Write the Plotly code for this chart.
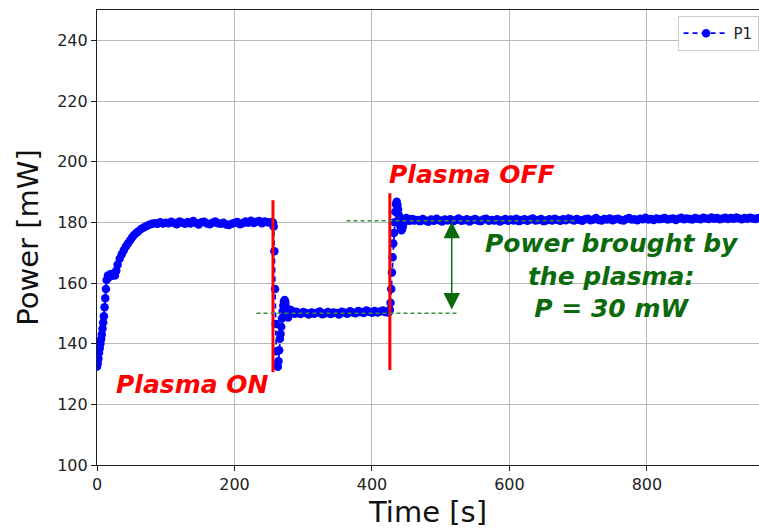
import plotly.graph_objects as go

# --- Power measurement P1 (time in s, power in mW) ---
# warm-up
t_warmup = [0, 1, 2, 3, 4, 5, 6, 7, 8, 9, 10, 11, 12, 13, 14, 16, 18, 20, 22, 24,
            26, 28, 30, 33, 36, 39, 42, 45, 48, 51, 54, 57, 60, 64, 68, 72, 76, 80,
            84, 88, 92, 96, 100]
p_warmup = [132.5, 133.5, 135.0, 137.0, 138.5, 140.0, 141.5, 143.0, 145.0, 147.0,
            149.0, 152.0, 155.0, 158.0, 161.0, 162.5, 162.0, 163.0, 162.5, 163.0,
            162.5, 164.0, 166.0, 168.0, 169.5, 170.8, 172.0, 173.0, 174.0, 175.0,
            175.8, 176.5, 177.0, 177.8, 178.3, 178.8, 179.2, 179.5, 179.7, 179.5,
            180.0, 179.6, 179.9]

# first plateau (plasma off)
t_plateau1 = list(range(104, 253, 4))
p_plateau1 = [179.7, 180.2, 179.8, 179.4, 180.3, 179.9, 179.5, 180.1, 179.6, 180.4,
              179.8, 179.3, 180.0, 180.2, 179.6, 179.4, 179.9, 180.3, 179.7, 179.5,
              179.9, 179.3, 179.1, 179.5, 179.8, 180.1, 179.4, 179.7, 180.3, 179.9,
              180.5, 179.8, 180.2, 180.4, 179.7, 180.3, 180.0, 179.9]

# plasma switched on
t_on = [255, 256, 257, 258, 259, 260, 261, 262, 263, 264, 265, 266, 267, 268, 269,
        270, 271, 272, 273, 274, 275, 276, 277, 278, 279, 280, 282, 284, 286, 288,
        290, 292]
p_on = [180.1, 179.8, 178.6, 170.5, 158.0, 146.5, 137.5, 133.0, 132.4, 134.2,
        137.8, 141.6, 143.2, 145.6, 148.3, 150.6, 152.6, 153.9, 154.4, 153.6,
        152.1, 150.2, 149.1, 148.6, 149.4, 150.3, 151.1, 150.7, 150.2, 149.9,
        150.5, 150.2]

# plateau with plasma
t_plateau2 = list(range(296, 421, 4))
p_plateau2 = [149.8, 150.4, 150.1, 149.6, 150.3, 149.9, 150.2, 150.6, 149.7, 150.0,
              150.4, 149.8, 150.3, 150.1, 149.6, 150.5, 150.2, 149.9, 150.7, 150.3,
              150.0, 150.8, 150.4, 150.1, 150.9, 150.5, 150.2, 150.8, 150.3, 150.6,
              150.9, 150.4]

# plasma switched off
t_off = [423, 424, 425, 426, 427, 428, 429, 430, 431, 432, 433, 434, 435, 436, 437,
         438, 439, 440, 441, 442, 443, 444, 445, 446, 447, 448, 450, 452, 454, 456,
         458, 460, 462]
p_off = [150.6, 150.3, 150.7, 151.2, 153.5, 158.0, 163.5, 168.5, 173.0, 176.5,
         180.0, 183.5, 186.0, 186.8, 185.8, 184.2, 182.3, 180.4, 178.9, 177.8,
         177.4, 177.9, 178.8, 179.8, 180.6, 181.2, 181.4, 180.8, 180.5, 181.1,
         180.7, 181.0, 180.6]

# final plateau
t_plateau3 = list(range(466, 963, 4))
p_plateau3 = [180.8, 180.4, 181.1, 180.6, 180.2, 180.9, 180.5, 181.2, 180.7, 180.3,
              180.9, 180.6, 181.0, 180.4, 180.8, 181.3, 180.5, 180.7, 181.0, 180.3,
              180.8, 181.1, 180.6, 180.4, 180.9, 181.2, 180.5, 180.8, 180.6, 181.0,
              180.3, 180.7, 181.1, 180.5, 180.9, 180.6, 181.2, 180.4, 180.8, 181.0,
              180.5, 180.9, 181.3, 180.6, 180.8, 181.1, 180.4, 180.7, 181.0, 180.6,
              181.2, 180.8, 180.5, 181.0, 180.7, 181.3, 180.9, 180.6, 181.1, 180.8,
              180.5, 181.0, 181.2, 180.7, 180.9, 181.4, 180.8, 180.6, 181.1, 180.9,
              181.3, 180.7, 181.0, 181.2, 180.8, 180.6, 181.1, 181.4, 180.9, 181.0,
              180.7, 181.2, 181.0, 181.5, 180.9, 181.1, 180.8, 181.3, 181.0, 181.2,
              181.4, 180.9, 181.1, 181.3, 180.8, 181.2, 181.5, 181.0, 181.3, 181.1,
              180.9, 181.4, 181.2, 181.0, 181.5, 181.3, 181.1, 181.6, 181.2, 181.4,
              181.0, 181.3, 181.5, 181.1, 181.4, 181.2, 181.6, 181.3, 181.0, 181.4,
              181.2, 181.5, 181.3, 181.1, 181.4]

time_s = t_warmup + t_plateau1 + t_on + t_plateau2 + t_off + t_plateau3
power_mw = p_warmup + p_plateau1 + p_on + p_plateau2 + p_off + p_plateau3

# events and reference levels
t_plasma_on = 256
t_plasma_off = 426
level_on = 150.0
level_off = 180.5
power_gain = 30

x_ticks = [0, 200, 400, 600, 800]
y_ticks = [100, 120, 140, 160, 180, 200, 220, 240]

FONT = "DejaVu Sans"
RED = "#ff0000"
DARK_GREEN = "#0b6b0b"
DASH_GREEN = "#3a8f3a"

fig = go.Figure()
fig.add_trace(go.Scatter(
    x=time_s, y=power_mw, name="P1", mode="lines+markers",
    line=dict(color="#0000ff", width=1.8, dash="5px,4px"),
    marker=dict(color="#0000ff", size=8.5),
))

# plasma on / off markers
fig.add_shape(type="line", x0=t_plasma_on, x1=t_plasma_on, y0=130.6, y1=187.3,
              line=dict(color=RED, width=3))
fig.add_shape(type="line", x0=t_plasma_off, x1=t_plasma_off, y0=131.3, y1=189.6,
              line=dict(color=RED, width=3))

# reference levels
fig.add_shape(type="line", x0=232, x1=525, y0=level_on, y1=level_on,
              line=dict(color=DASH_GREEN, width=1.5, dash="4px,3px"))
fig.add_shape(type="line", x0=363, x1=698, y0=level_off, y1=level_off,
              line=dict(color=DASH_GREEN, width=1.5, dash="4px,3px"))

# double arrow for the power difference
fig.add_annotation(x=516, y=level_off - 0.3, ax=516, ay=level_on + 0.8,
                   xref="x", yref="y", axref="x", ayref="y", text="",
                   showarrow=True, arrowside="end+start", arrowhead=2,
                   arrowsize=2.2, arrowwidth=1.5, arrowcolor=DARK_GREEN)

fig.add_annotation(x=139.6, y=126.4, xref="x", yref="y", showarrow=False,
                   text="<b><i>Plasma ON</i></b>",
                   font=dict(family=FONT, size=25, color=RED))
fig.add_annotation(x=545.5, y=195.8, xref="x", yref="y", showarrow=False,
                   text="<b><i>Plasma OFF</i></b>",
                   font=dict(family=FONT, size=25, color=RED))
fig.add_annotation(x=748.5, y=162.3, xref="x", yref="y", showarrow=False,
                   text=f"<b><i>Power brought by<br>the plasma:<br>P = {power_gain} mW</i></b>",
                   align="center",
                   font=dict(family=FONT, size=25, color=DARK_GREEN))

fig.update_layout(
    width=759, height=529,
    margin=dict(l=97, r=0, t=10, b=64, autoexpand=False),
    plot_bgcolor="white", paper_bgcolor="white",
    font=dict(family=FONT, color="#222222"),
    showlegend=True,
    legend=dict(x=0.877, y=0.987, xanchor="left", yanchor="top",
                bgcolor="white", bordercolor="#cccccc", borderwidth=1,
                itemwidth=45,
                font=dict(family=FONT, size=15, color="#222222")),
)
fig.update_xaxes(
    range=[0, 963], tickvals=x_ticks, ticks="outside", ticklen=5,
    tickcolor="#222222", tickfont=dict(size=16),
    showline=True, linecolor="#222222", linewidth=1.2, mirror=True,
    showgrid=True, gridcolor="#b8b8b8", gridwidth=1, zeroline=False,
    title=dict(text="Time [s]", font=dict(size=29, color="#111111"), standoff=8),
)
fig.update_yaxes(
    range=[100, 250], tickvals=y_ticks, ticks="outside", ticklen=5,
    tickcolor="#222222", tickfont=dict(size=16),
    showline=True, linecolor="#222222", linewidth=1.2,
    showgrid=True, gridcolor="#b8b8b8", gridwidth=1, zeroline=False,
    title=dict(text="Power [mW]", font=dict(size=29, color="#111111"), standoff=10),
)

fig.write_html("out.html")
